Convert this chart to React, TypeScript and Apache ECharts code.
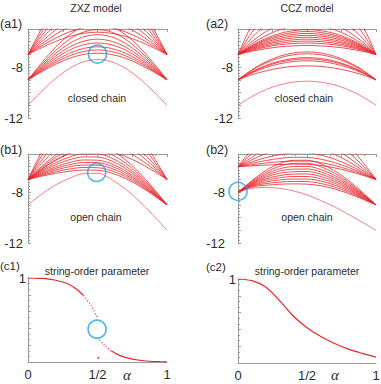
import React, { useEffect, useRef } from 'react';
import * as echarts from 'echarts';

// coupling parameter alpha (shared sampling of the spectra)
const ALPHA = [0, 0.1, 0.2, 0.3, 0.4, 0.5, 0.6, 0.7, 0.8, 0.9, 1];

// (a1) ZXZ model, closed chain
const A1_GROUND = [-11, -9.89, -8.88, -8.09, -7.58, -7.4, -7.58, -8.09, -8.88, -9.89, -11];
const A1_FROM9 = [
  [-9, -8.35, -7.77, -7.3, -7.0, -6.9, -7.0, -7.3, -7.77, -8.35, -9],
  [-9, -8.27, -7.62, -7.1, -6.77, -6.65, -6.77, -7.1, -7.62, -8.27, -9],
  [-9, -8.2, -7.47, -6.9, -6.53, -6.4, -6.53, -6.9, -7.47, -8.2, -9],
  [-9, -8.1, -7.3, -6.65, -6.24, -6.1, -6.24, -6.65, -7.3, -8.1, -9],
  [-9, -8.01, -7.12, -6.41, -5.96, -5.8, -5.96, -6.41, -7.12, -8.01, -9],
  [-9, -7.9, -6.91, -6.13, -5.62, -5.45, -5.62, -6.13, -6.91, -7.9, -9],
  [-9, -7.78, -6.68, -5.8, -5.24, -5.05, -5.24, -5.8, -6.68, -7.78, -9],
  [-9, -7.64, -6.41, -5.44, -4.82, -4.6, -4.82, -5.44, -6.41, -7.64, -9],
];
const A1_FROM7 = [
  [-7, -6.46, -5.97, -5.58, -5.34, -5.25, -5.34, -5.58, -5.97, -6.46, -7],
  [-7, -6.32, -5.71, -5.22, -4.91, -4.8, -4.91, -5.22, -5.71, -6.32, -7],
  [-7, -6.17, -5.41, -4.82, -4.43, -4.3, -4.43, -4.82, -5.41, -6.17, -7],
  [-7, -5.98, -5.06, -4.33, -3.86, -3.7, -3.86, -4.33, -5.06, -5.98, -7],
  [-7, -5.76, -4.65, -3.76, -3.2, -3.0, -3.2, -3.76, -4.65, -5.76, -7],
  [-7, -5.52, -4.18, -3.12, -2.44, -2.2, -2.44, -3.12, -4.18, -5.52, -7],
  [-7, -5.24, -3.65, -2.39, -1.58, -1.3, -1.58, -2.39, -3.65, -5.24, -7],
  [-7, -4.93, -3.06, -1.58, -0.63, -0.3, -0.63, -1.58, -3.06, -4.93, -7],
];

// (a2) CCZ model, closed chain
const A2_GROUND = [-11, -10.32, -9.78, -9.4, -9.18, -9.1, -9.18, -9.4, -9.78, -10.32, -11];
const A2_FROM9 = [
  [-9, -8.6, -8.3, -8.08, -7.94, -7.9, -7.94, -8.08, -8.3, -8.6, -9],
  [-9, -8.46, -8.04, -7.74, -7.56, -7.5, -7.56, -7.74, -8.04, -8.46, -9],
  [-9, -8.41, -7.94, -7.61, -7.42, -7.35, -7.42, -7.61, -7.94, -8.41, -9],
  [-9, -8.37, -7.88, -7.53, -7.32, -7.25, -7.32, -7.53, -7.88, -8.37, -9],
  [-9, -8.26, -7.69, -7.28, -7.03, -6.95, -7.03, -7.28, -7.69, -8.26, -9],
  [-9, -8.21, -7.59, -7.15, -6.89, -6.8, -6.89, -7.15, -7.59, -8.21, -9],
];
const A2_FROM7 = [
  [-7, -6.75, -6.55, -6.41, -6.33, -6.3, -6.33, -6.41, -6.55, -6.75, -7],
  [-7, -6.68, -6.42, -6.24, -6.14, -6.1, -6.14, -6.24, -6.42, -6.68, -7],
  [-7, -6.62, -6.33, -6.12, -5.99, -5.95, -5.99, -6.12, -6.33, -6.62, -7],
  [-7, -6.57, -6.23, -5.99, -5.85, -5.8, -5.85, -5.99, -6.23, -6.57, -7],
  [-7, -6.51, -6.14, -5.87, -5.7, -5.65, -5.7, -5.87, -6.14, -6.51, -7],
  [-7, -6.46, -6.04, -5.74, -5.56, -5.5, -5.56, -5.74, -6.04, -6.46, -7],
  [-7, -6.41, -5.94, -5.61, -5.42, -5.35, -5.42, -5.61, -5.94, -6.41, -7],
  [-7, -6.35, -5.85, -5.49, -5.27, -5.2, -5.27, -5.49, -5.85, -6.35, -7],
  [-7, -6.3, -5.75, -5.36, -5.13, -5.05, -5.13, -5.36, -5.75, -6.3, -7],
  [-7, -6.17, -5.53, -5.07, -4.79, -4.7, -4.79, -5.07, -5.53, -6.17, -7],
  [-7, -5.99, -5.21, -4.65, -4.31, -4.2, -4.31, -4.65, -5.21, -5.99, -7],
  [-7, -5.7, -4.7, -3.98, -3.54, -3.4, -3.54, -3.98, -4.7, -5.7, -7],
  [-7, -5.27, -3.93, -2.97, -2.39, -2.2, -2.39, -2.97, -3.93, -5.27, -7],
  [-7, -4.66, -2.84, -1.54, -0.76, -0.5, -0.76, -1.54, -2.84, -4.66, -7],
];

// (b1) ZXZ model, open chain
const B1_GROUND = [-9, -8.15, -7.42, -6.9, -6.55, -6.52, -7.0, -7.75, -8.7, -9.8, -11];
const B1_7TO9 = [
  [-7, -6.74, -6.52, -6.35, -6.26, -6.28, -6.5, -6.92, -7.51, -8.22, -9],
  [-7, -6.68, -6.39, -6.18, -6.06, -6.08, -6.32, -6.77, -7.4, -8.17, -9],
  [-7, -6.61, -6.26, -6.0, -5.87, -5.88, -6.13, -6.62, -7.3, -8.11, -9],
  [-7, -6.54, -6.13, -5.83, -5.67, -5.68, -5.95, -6.47, -7.19, -8.06, -9],
  [-7, -6.47, -6.0, -5.66, -5.47, -5.49, -5.77, -6.32, -7.08, -8.0, -9],
  [-7, -6.38, -5.84, -5.44, -5.23, -5.24, -5.54, -6.13, -6.94, -7.93, -9],
  [-7, -6.3, -5.68, -5.23, -4.98, -4.99, -5.31, -5.94, -6.81, -7.86, -9],
  [-7, -6.2, -5.49, -4.97, -4.69, -4.69, -5.04, -5.71, -6.65, -7.77, -9],
  [-7, -6.08, -5.26, -4.66, -4.34, -4.35, -4.72, -5.45, -6.46, -7.67, -9],
];
const B1_7TO7 = [
  [-7, -6.18, -5.46, -4.92, -4.64, -4.62, -4.82, -5.19, -5.7, -6.32, -7],
  [-7, -5.97, -5.07, -4.4, -4.05, -4.03, -4.27, -4.73, -5.38, -6.15, -7],
  [-7, -5.73, -4.62, -3.8, -3.36, -3.34, -3.63, -4.2, -5.0, -5.96, -7],
  [-7, -5.46, -4.11, -3.1, -2.57, -2.55, -2.91, -3.6, -4.57, -5.73, -7],
  [-7, -5.12, -3.46, -2.24, -1.58, -1.56, -2.0, -2.84, -4.02, -5.45, -7],
  [-7, -4.78, -2.82, -1.37, -0.6, -0.57, -1.09, -2.09, -3.48, -5.17, -7],
];

// (b2) CCZ model, open chain
const B2_GROUND = [-8, -7.7, -7.64, -7.7, -7.9, -8.22, -8.66, -9.16, -9.75, -10.36, -11];
const B2_8TO9 = [
  [-8, -7.6, -7.46, -7.38, -7.35, -7.37, -7.5, -7.75, -8.11, -8.54, -9],
  [-8, -7.55, -7.33, -7.21, -7.16, -7.17, -7.32, -7.6, -8.0, -8.48, -9],
  [-8, -7.5, -7.2, -7.04, -6.97, -6.97, -7.13, -7.45, -7.89, -8.42, -9],
  [-8, -7.45, -7.07, -6.87, -6.77, -6.77, -6.95, -7.3, -7.78, -8.37, -9],
  [-8, -7.4, -6.95, -6.7, -6.58, -6.57, -6.77, -7.15, -7.67, -8.31, -9],
  [-8, -7.35, -6.83, -6.52, -6.39, -6.38, -6.59, -7.0, -7.57, -8.25, -9],
  [-8, -7.3, -6.71, -6.35, -6.19, -6.18, -6.41, -6.85, -7.46, -8.2, -9],
  [-8, -7.24, -6.59, -6.17, -5.99, -5.98, -6.22, -6.69, -7.35, -8.14, -9],
  [-8, -7.17, -6.45, -5.96, -5.74, -5.73, -6.0, -6.51, -7.22, -8.07, -9],
  [-8, -7.1, -6.3, -5.76, -5.5, -5.49, -5.77, -6.32, -7.08, -8.0, -9],
];
const B2_6TO7 = [
  [-6, -5.93, -5.87, -5.83, -5.8, -5.81, -5.91, -6.09, -6.35, -6.66, -7],
  [-6, -5.85, -5.71, -5.61, -5.56, -5.56, -5.68, -5.9, -6.22, -6.59, -7],
  [-6, -5.74, -5.52, -5.35, -5.26, -5.27, -5.41, -5.68, -6.05, -6.51, -7],
  [-6, -5.62, -5.29, -5.05, -4.92, -4.92, -5.09, -5.41, -5.86, -6.41, -7],
  [-6, -5.45, -4.97, -4.61, -4.42, -4.43, -4.63, -5.03, -5.59, -6.27, -7],
  [-6, -5.25, -4.59, -4.1, -3.83, -3.83, -4.09, -4.58, -5.27, -6.1, -7],
  [-6, -4.97, -4.07, -3.4, -3.05, -3.04, -3.36, -3.98, -4.84, -5.87, -7],
  [-6, -4.63, -3.43, -2.54, -2.06, -2.05, -2.45, -3.22, -4.3, -5.59, -7],
];

// (c1) string-order parameter, ZXZ
const C1_UP_X = [0, 0.05, 0.1, 0.15, 0.2, 0.25, 0.3, 0.35, 0.4];
const C1_UP_Y = [1.0, 0.999, 0.995, 0.987, 0.973, 0.952, 0.92, 0.865, 0.79];
const C1_UPD_X = [0.4, 0.45, 0.5];
const C1_UPD_Y = [0.79, 0.68, 0.53];
const C1_LOD_X = [0.5, 0.55, 0.6];
const C1_LOD_Y = [0.29, 0.2, 0.13];
const C1_LO_X = [0.6, 0.65, 0.7, 0.75, 0.8, 0.85, 0.9, 0.95, 1];
const C1_LO_Y = [0.13, 0.085, 0.055, 0.035, 0.021, 0.012, 0.006, 0.003, 0.001];
const C1_STRAY = [[0.505, 0.05]];

// (c2) string-order parameter, CCZ
const C2_Y = [1.0, 0.98, 0.905, 0.745, 0.56, 0.42, 0.315, 0.232, 0.165, 0.115, 0.07];

// gap-closing markers [alpha, value] per panel
const MARK_A1 = [[0.5, -6.97]];
const MARK_B1 = [[0.494, -6.45]];
const MARK_B2 = [[0, -7.94]];
const MARK_C1 = [[0.497, 0.39]];

const RED = '#e8262b';
const BLUE = '#1fa6e2';
const GRAY = '#9a9a9a';
const TXT = '#2b2b2b';
const FONT = '"Liberation Sans", Arial, sans-serif';

const GRIDS = [
  { left: 28, top: 29, width: 139, height: 89 },
  { left: 238, top: 29, width: 138, height: 89 },
  { left: 28, top: 154, width: 139, height: 89 },
  { left: 238, top: 154, width: 138, height: 89 },
  { left: 28, top: 278, width: 139, height: 84 },
  { left: 238, top: 279, width: 138, height: 84 },
];

function energyY(g: number, margin = 5) {
  return {
    type: 'value', gridIndex: g, min: -12, max: -5, interval: 1,
    axisLine: { show: true, onZero: false, lineStyle: { color: GRAY, width: 1 } },
    axisTick: { show: true, inside: true, length: 3, lineStyle: { color: GRAY } },
    minorTick: { show: true, splitNumber: 4, length: 2, lineStyle: { color: GRAY } },
    splitLine: { show: false },
    minorSplitLine: { show: false },
    axisLabel: {
      showMinLabel: true, showMaxLabel: true,
      formatter: (v: number) => (v === -8 || v === -12 ? String(v) : ''),
      fontSize: 13, color: TXT, margin, fontFamily: FONT,
    },
  };
}
function energyX(g: number) {
  return {
    type: 'value', gridIndex: g, min: 0, max: 1, interval: 0.25, position: 'top',
    axisLine: { show: true, onZero: false, lineStyle: { color: GRAY, width: 1 } },
    axisTick: { show: true, inside: true, length: 3, lineStyle: { color: GRAY } },
    minorTick: { show: true, splitNumber: 3, length: 2, lineStyle: { color: GRAY } },
    splitLine: { show: false },
    axisLabel: { show: false },
  };
}
function orderY(g: number) {
  return {
    type: 'value', gridIndex: g, min: 0, max: 1, interval: 0.2,
    axisLine: { show: true, onZero: false, lineStyle: { color: GRAY, width: 1 } },
    axisTick: { show: true, inside: true, length: 3, lineStyle: { color: GRAY } },
    minorTick: { show: true, splitNumber: 3, length: 2, lineStyle: { color: GRAY } },
    splitLine: { show: false },
    axisLabel: {
      showMaxLabel: true,
      formatter: (v: number) => (v === 1 ? '1' : ''),
      fontSize: 13, color: TXT, margin: 2, fontFamily: FONT,
    },
  };
}
function orderX(g: number) {
  return {
    type: 'value', gridIndex: g, min: 0, max: 1, interval: 0.5, position: 'bottom',
    axisLine: { show: true, onZero: false, lineStyle: { color: GRAY, width: 1 } },
    axisTick: { show: false },
    splitLine: { show: false },
    axisLabel: {
      showMinLabel: true, showMaxLabel: true,
      formatter: (v: number) => (v === 0 ? '0' : v === 0.5 ? '1/2' : v === 1 ? '1' : ''),
      fontSize: 13, color: TXT, margin: 6, fontFamily: FONT,
    },
  };
}

function curves(list: number[][], g: number, opacity = 0.9, width = 0.9) {
  return list.map((arr) => ({
    type: 'line', xAxisIndex: g, yAxisIndex: g,
    data: ALPHA.map((a, i) => [a, arr[i]]),
    smooth: 0.35, symbol: 'none', silent: true, clip: true,
    lineStyle: { color: RED, width, opacity },
  }));
}
function xyLine(xs: number[], ys: number[], g: number, dotted: boolean) {
  return {
    type: 'line', xAxisIndex: g, yAxisIndex: g,
    data: xs.map((x, i) => [x, ys[i]]),
    smooth: 0.3, symbol: 'none', silent: true, clip: true,
    lineStyle: { color: RED, width: dotted ? 1.1 : 1.2, type: dotted ? [1, 2] : 'solid' },
  };
}
function marker(data: number[][], g: number) {
  return {
    type: 'scatter', xAxisIndex: g, yAxisIndex: g, data, clip: false, silent: true, z: 5,
    symbol: 'circle', symbolSize: 18,
    itemStyle: { color: 'rgba(0,0,0,0)', borderColor: BLUE, borderWidth: 1.6 },
  };
}
function txt(text: string, x: number, y: number, size: number, align = 'center', extra: any = {}) {
  return {
    type: 'text', x, y, silent: true,
    style: {
      text, fill: TXT, fontSize: size, fontFamily: FONT,
      align, verticalAlign: 'middle', textAlign: align, textVerticalAlign: 'middle', ...extra,
    },
  };
}

export default function App() {
  const ref = useRef<HTMLDivElement>(null);
  useEffect(() => {
    if (!ref.current) return;
    const chart = echarts.init(ref.current, null, { renderer: 'svg' });
    const series: any[] = [
      ...curves([A1_GROUND], 0, 0.65),
      ...curves(A1_FROM9, 0),
      ...curves(A1_FROM7, 0),
      ...curves([A2_GROUND], 1, 0.65),
      ...curves(A2_FROM9, 1),
      ...curves(A2_FROM7, 1),
      ...curves([B1_GROUND], 2, 0.65),
      ...curves(B1_7TO9, 2),
      ...curves(B1_7TO7, 2),
      ...curves([B2_GROUND], 3, 0.65),
      ...curves(B2_8TO9, 3),
      ...curves(B2_6TO7, 3),
      xyLine(C1_UP_X, C1_UP_Y, 4, false),
      xyLine(C1_UPD_X, C1_UPD_Y, 4, true),
      xyLine(C1_LOD_X, C1_LOD_Y, 4, true),
      xyLine(C1_LO_X, C1_LO_Y, 4, false),
      {
        type: 'scatter', xAxisIndex: 4, yAxisIndex: 4, data: C1_STRAY, symbol: 'circle', symbolSize: 2,
        itemStyle: { color: RED }, silent: true,
      },
      xyLine(ALPHA, C2_Y, 5, false),
      marker(MARK_A1, 0),
      marker(MARK_B1, 2),
      marker(MARK_B2, 3),
      marker(MARK_C1, 4),
    ];
    chart.setOption({
      animation: false,
      backgroundColor: '#ffffff',
      grid: GRIDS.map((g) => ({ ...g, containLabel: false, outerBoundsMode: 'none' })),
      xAxis: [energyX(0), energyX(1), energyX(2), energyX(3), orderX(4), orderX(5)],
      yAxis: [energyY(0), energyY(1), energyY(2), energyY(3, 13), orderY(4), orderY(5)],
      series,
      graphic: [
        txt('ZXZ model', 96, 8, 10.5),
        txt('CCZ model', 307, 8, 10.5),
        txt('(a1)', 0, 24, 12.5, 'left'),
        txt('(a2)', 206, 24, 12.5, 'left'),
        txt('(b1)', 0, 150, 12.5, 'left'),
        txt('(b2)', 206, 150, 12.5, 'left'),
        txt('(c1)', 0, 266, 11.5, 'left'),
        txt('(c2)', 206, 267, 11.5, 'left'),
        txt('closed chain', 97, 98, 10.5),
        txt('closed chain', 304, 98, 10.5),
        txt('open chain', 96, 217, 10.5),
        txt('open chain', 307, 217, 10.5),
        txt('string-order parameter', 97, 271, 10.5),
        txt('string-order parameter', 307, 271, 10.5),
        txt('α', 127, 375, 15, 'center', { fontFamily: '"Liberation Serif", "DejaVu Serif", serif', fontStyle: 'italic' }),
        txt('α', 335, 375, 15, 'center', { fontFamily: '"Liberation Serif", "DejaVu Serif", serif', fontStyle: 'italic' }),
      ],
    });
    return () => chart.dispose();
  }, []);
  return (
    <div
      ref={ref}
      style={{ position: 'absolute', left: 0, top: 0, width: 381, height: 384, background: '#fff' }}
    />
  );
}
